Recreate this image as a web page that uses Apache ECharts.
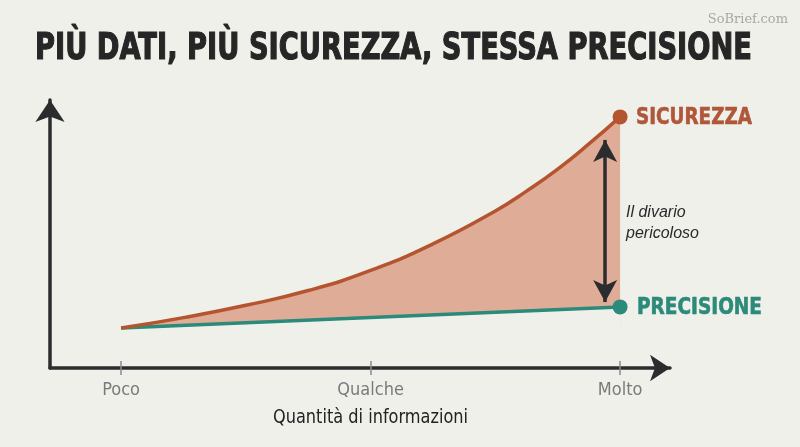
<!DOCTYPE html>
<html>
<head>
<meta charset="utf-8">
<script src="https://cdn.jsdelivr.net/npm/echarts@6/dist/echarts.min.js"></script>
<style>
html,body{margin:0;padding:0;background:#f0f0eb;}
#c{width:800px;height:447px;}
</style>
</head>
<body>
<div id="c"></div>
<script>
// ---- data ----
const categories = ['Poco', 'Qualche', 'Molto'];
const categoryPos = [0, 1, 2];
const sicurezzaX = [0, 0.25, 0.5, 0.75, 1, 1.25, 1.5, 1.625, 1.75, 1.875, 2];
const sicurezzaY = [14.9, 18.8, 23.4, 28.9, 36.4, 46.3, 58.6, 66.0, 74.2, 83.6, 93.7];
const precisioneX = [0, 1, 2];
const precisioneY = [14.9, 18.8, 22.8];
const gapX = [1.94];
const gapY = [85.1, 24.6];
const seriesNames = ['SICUREZZA', 'PRECISIONE'];
const titleText = 'PIÙ DATI, PIÙ SICUREZZA, STESSA PRECISIONE';
const axisTitle = 'Quantità di informazioni';
const gapLabel = ['Il divario', 'pericoloso'];

// ---- styles ----
const BG = '#f0f0eb';
const RUST = '#b5552f';
const RUST_TXT = '#b0573a';
const FILL = '#dfac98';
const TEAL = '#2b8a79';
const DARK = '#2a2c2e';

function fitScale(text, font, target) {
  const c = document.createElement('canvas').getContext('2d');
  c.font = font;
  return target / c.measureText(text).width;
}
const COND = '"DejaVu Sans Condensed", "DejaVu Sans", sans-serif';
const titleFont = 'bold 38px ' + COND;
const lblFont = 'bold 23px ' + COND;
const nameFont = '19px ' + COND;
const bandBase = Math.min(precisioneY[0], sicurezzaY[0]);

function pts(xs, ys) { return xs.map((x, i) => [x, ys[i]]); }

const chart = echarts.init(document.getElementById('c'), null, {renderer: 'canvas'});
const option = {
  backgroundColor: BG,
  animation: false,
  grid: {left: 50, right: 130, top: 100, bottom: 79},
  xAxis: [{
    type: 'value', min: -0.285, max: 2.2, z: 10,
    axisLine: {show: true, onZero: false, lineStyle: {color: DARK, width: 3.5}, symbol: ['none', 'arrow'], symbolSize: [20, 20]},
    axisTick: {show: true, customValues: categoryPos, length: 7, lineStyle: {color: '#8a8a8a', width: 1.5}},
    axisLabel: {show: true, customValues: categoryPos, margin: 13, color: '#7a7a7a', fontSize: 18,
      fontFamily: COND, formatter: v => categories[Math.round(v)]},
    splitLine: {show: false}
  }, {
    type: 'value', min: -0.285, max: 2.2, position: 'bottom', z: 11,
    axisLine: {show: false, onZero: false},
    axisTick: {show: true, inside: true, customValues: categoryPos, length: 7, lineStyle: {color: '#8a8a8a', width: 1.5}},
    axisLabel: {show: false}, splitLine: {show: false}
  }],
  yAxis: {
    type: 'value', min: 0, max: 100, z: 10,
    axisLine: {show: true, onZero: false, lineStyle: {color: DARK, width: 3.5}, symbol: ['none', 'arrow'], symbolSize: [22, 22]},
    axisTick: {show: false}, axisLabel: {show: false}, splitLine: {show: false}
  },
  series: [
    { type: 'line', name: 'fill', data: pts(sicurezzaX, sicurezzaY), smooth: true, symbol: 'none',
      lineStyle: {width: 0}, areaStyle: {color: FILL, opacity: 1, origin: bandBase}, z: 2 },
    { type: 'line', name: 'mask', data: pts(precisioneX, precisioneY), symbol: 'none',
      lineStyle: {width: 0}, areaStyle: {color: BG, opacity: 1, origin: bandBase}, z: 3 },
    { type: 'line', name: seriesNames[1], data: pts(precisioneX, precisioneY), symbol: 'none',
      lineStyle: {color: TEAL, width: 3.5}, z: 4 },
    { type: 'line', name: seriesNames[0], data: pts(sicurezzaX, sicurezzaY), smooth: true, symbol: 'none',
      lineStyle: {color: RUST, width: 3.5}, z: 5,
      markLine: {
        silent: true, symbol: ['arrow', 'arrow'], symbolSize: [18, 22],
        lineStyle: {color: DARK, width: 3.5, type: 'solid'}, label: {show: false},
        data: [[{coord: [gapX[0], gapY[0]]}, {coord: [gapX[0], gapY[1]]}]]
      } },
    { type: 'scatter', data: [[sicurezzaX[sicurezzaX.length - 1], sicurezzaY[sicurezzaY.length - 1]]],
      symbolSize: 15, itemStyle: {color: RUST, opacity: 1}, z: 6 },
    { type: 'scatter', data: [[precisioneX[precisioneX.length - 1], precisioneY[precisioneY.length - 1]]],
      symbolSize: 15, itemStyle: {color: TEAL, opacity: 1}, z: 6 }
  ],
  graphic: [
    { type: 'text', x: 35, y: 49, scaleX: fitScale(titleText, titleFont, 717),
      style: {text: titleText, font: titleFont, fill: '#262626', stroke: '#262626', lineWidth: 1.2, align: 'left', verticalAlign: 'middle', textAlign: 'left', textVerticalAlign: 'middle'} },
    { type: 'text', x: 788, y: 20,
      style: {text: 'SoBrief.com', font: '13px "DejaVu Serif", serif', fill: '#a8a8a4', align: 'right', verticalAlign: 'middle', textAlign: 'right', textVerticalAlign: 'middle'} },
    { type: 'text', x: 636, y: 118, scaleX: fitScale(seriesNames[0], lblFont, 116),
      style: {text: seriesNames[0], font: lblFont, fill: RUST_TXT, stroke: RUST_TXT, lineWidth: 0.6, align: 'left', verticalAlign: 'middle', textAlign: 'left', textVerticalAlign: 'middle'} },
    { type: 'text', x: 637, y: 308, scaleX: fitScale(seriesNames[1], lblFont, 125),
      style: {text: seriesNames[1], font: lblFont, fill: TEAL, stroke: TEAL, lineWidth: 0.6, align: 'left', verticalAlign: 'middle', textAlign: 'left', textVerticalAlign: 'middle'} },
    { type: 'text', x: 626, y: 213,
      style: {text: gapLabel[0], font: 'italic 16px "Liberation Sans", Arial, sans-serif', fill: '#2a2a2a', align: 'left', verticalAlign: 'middle', textAlign: 'left', textVerticalAlign: 'middle'} },
    { type: 'text', x: 626, y: 234,
      style: {text: gapLabel[1], font: 'italic 16px "Liberation Sans", Arial, sans-serif', fill: '#2a2a2a', align: 'left', verticalAlign: 'middle', textAlign: 'left', textVerticalAlign: 'middle'} },
    { type: 'text', x: 273, y: 418, scaleX: fitScale(axisTitle, nameFont, 195),
      style: {text: axisTitle, font: nameFont, fill: '#222', align: 'left', verticalAlign: 'middle', textAlign: 'left', textVerticalAlign: 'middle'} }
  ]
};
chart.setOption(option);
</script>
</body>
</html>
